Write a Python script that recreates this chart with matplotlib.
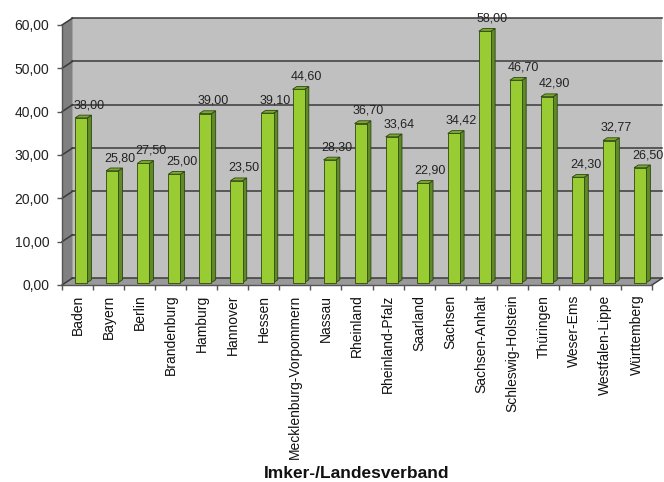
import matplotlib
matplotlib.use("Agg")
import matplotlib.pyplot as plt
from matplotlib.patches import Polygon

plt.rcParams['font.family'] = ['Liberation Sans', 'DejaVu Sans']

categories = ["Baden", "Bayern", "Berlin", "Brandenburg", "Hamburg", "Hannover",
              "Hessen", "Mecklenburg-Vorpommern", "Nassau", "Rheinland",
              "Rheinland-Pfalz", "Saarland", "Sachsen", "Sachsen-Anhalt",
              "Schleswig-Holstein", "Thüringen", "Weser-Ems", "Westfalen-Lippe",
              "Württemberg"]
values = [38.00, 25.80, 27.50, 25.00, 39.00, 23.50, 39.10, 44.60, 28.30, 36.70,
          33.64, 22.90, 34.42, 58.00, 46.70, 42.90, 24.30, 32.77, 26.50]
yticks = [0, 10, 20, 30, 40, 50, 60]
xlabel = "Imker-/Landesverband"

W, H = 664, 482
fig = plt.figure(figsize=(W / 100, H / 100), dpi=100)
ax = fig.add_axes([62 / W, 1 - 285 / H, 590 / W, 260 / H])
n = len(categories)
ax.set_xlim(0, n)
ax.set_ylim(0, 60)

# 3D wall depth in data units
DXW, DYW = 0.338, 1.6
WALL = '#c0c0c0'
SIDE = '#808080'
FLOOR = '#999999'
GRID = '#3a3a3a'

# back wall
ax.add_patch(Polygon([(DXW, DYW), (n + DXW, DYW), (n + DXW, 60 + DYW), (DXW, 60 + DYW)],
                     closed=True, facecolor=WALL, edgecolor='none', clip_on=False, zorder=0))
# left wall
ax.add_patch(Polygon([(0, 0), (DXW, DYW), (DXW, 60 + DYW), (0, 60)],
                     closed=True, facecolor=SIDE, edgecolor='none', clip_on=False, zorder=0.5))
# floor
ax.add_patch(Polygon([(0, 0), (n, 0), (n + DXW, DYW), (DXW, DYW)],
                     closed=True, facecolor=FLOOR, edgecolor='none', clip_on=False, zorder=0.5))

for yv in yticks:
    ax.plot([DXW, n + DXW], [yv + DYW, yv + DYW], color=GRID, lw=1.1, clip_on=False, zorder=1)
    ax.plot([0, DXW], [yv, yv + DYW], color=GRID, lw=1.1, clip_on=False, zorder=1)
ax.plot([n, n + DXW], [0, DYW], color=GRID, lw=1.0, clip_on=False, zorder=1)

# bars
FRONT = '#99cc33'
BSIDE = '#5e8a28'
BTOP = '#7bab2e'
EDGE = '#2f4510'
bw = 0.39
fx, fy = 0.35 * DXW, 0.35 * DYW
dx, dy = 0.135, 0.64
for i, v in enumerate(values):
    x0 = i + 0.5 + fx - bw / 2
    x1 = x0 + bw
    y0 = fy
    y1 = v + fy
    ax.add_patch(Polygon([(x1, y0), (x1 + dx, y0 + dy), (x1 + dx, y1 + dy), (x1, y1)],
                         closed=True, facecolor=BSIDE, edgecolor=EDGE, lw=0.6, zorder=3, clip_on=False))
    ax.add_patch(Polygon([(x0, y1), (x1, y1), (x1 + dx, y1 + dy), (x0 + dx, y1 + dy)],
                         closed=True, facecolor=BTOP, edgecolor=EDGE, lw=0.6, zorder=3, clip_on=False))
    ax.add_patch(Polygon([(x0, y0), (x1, y0), (x1, y1), (x0, y1)],
                         closed=True, facecolor=FRONT, edgecolor=EDGE, lw=0.6, zorder=4, clip_on=False))
    ax.text(i + 0.5 + 0.36, v + 3.5, f"{v:.2f}".replace('.', ','), ha='center', va='center',
            fontsize=9, color='#222222', zorder=5, clip_on=False)

ax.patch.set_visible(False)
for s in ['top', 'right']:
    ax.spines[s].set_visible(False)
for s in ['left', 'bottom']:
    ax.spines[s].set_color('#555555')
    ax.spines[s].set_linewidth(1.0)
    ax.spines[s].set_zorder(2)

ax.set_yticks(yticks)
ax.set_yticklabels([f"{t:.2f}".replace('.', ',') for t in yticks], fontsize=10, color='#222222')
ax.tick_params(axis='y', length=3.6, width=1, color='#555555', pad=5.5)

ax.set_xticks([i + 0.5 for i in range(n)])
ax.set_xticklabels(categories, rotation=90, fontsize=10, color='#111111')
ax.set_xticks(list(range(n + 1)), minor=True)
ax.tick_params(axis='x', which='major', length=0, pad=7)
ax.tick_params(axis='x', which='minor', length=3.6, width=1, color='#555555')

fig.text(357 / W, 1 - 474 / H, xlabel, ha='center', va='center', fontsize=12.5,
         fontweight='bold', color='#111111')

fig.savefig('out.png', dpi=100)
